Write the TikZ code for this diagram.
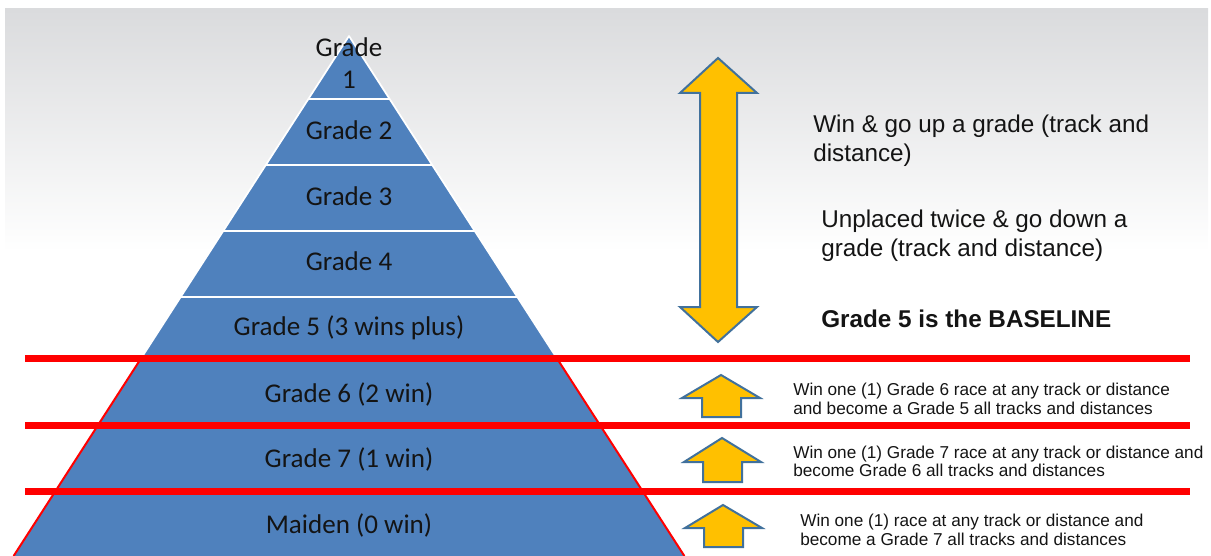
\documentclass[tikz,border=0pt]{standalone}
\usepackage{fontspec}
\setmainfont{Liberation Sans}
\newfontfamily\calib{Carlito}
\definecolor{pyr}{RGB}{79,129,189}
\definecolor{gold}{RGB}{255,192,0}
\definecolor{arrowedge}{RGB}{65,113,156}
\definecolor{bggray}{RGB}{218,219,221}
\definecolor{txt}{RGB}{20,20,20}
\begin{document}
\begin{tikzpicture}[x=0.75pt,y=-0.75pt,
  lvl/.style={font=\calib\fontsize{20.3}{24}\selectfont, anchor=base, text=txt, inner sep=0pt},
  bigtxt/.style={font=\fontsize{18.2}{21.8}\selectfont, anchor=base west, text=txt, inner sep=0pt},
  smalltxt/.style={font=\fontsize{12.9}{15}\selectfont, anchor=base west, text=txt, inner sep=0pt},
  redline/.style={draw=red, line width=5.25pt},
  whitesep/.style={draw=white, line width=2.2pt},
  goldarrow/.style={fill=gold, draw=arrowedge, line width=1.5pt, line join=miter}]
\useasboundingbox (0,0) rectangle (1211,556);
\begin{scope}
\clip (0,0) rectangle (1211,556);
% background
\shade[top color=bggray, bottom color=white] (5,9) rectangle (1208,252);
% pyramid
\fill[pyr] (349,36) -- (684.4,556) -- (13.6,556) -- cycle;
\draw[white, line width=1.3pt, line join=round] (141.3,358) -- (349,36) -- (556.7,358);
\draw[whitesep] (308.4,99) -- (389.6,99);
\draw[whitesep] (265.8,165) -- (432.2,165);
\draw[whitesep] (223.2,231) -- (474.8,231);
\draw[whitesep] (180.7,297) -- (517.3,297);
\draw[red, line width=1.5pt] (141.3,358) -- (13.6,556);
\draw[red, line width=1.5pt] (556.7,358) -- (684.4,556);
% red lines
\draw[redline] (25,358) -- (1190,358);
\draw[redline] (25,425) -- (1190,425);
\draw[redline] (25,491) -- (1190,491);
\end{scope}
% pyramid labels
\node[lvl] (g1a) at (349,57) {Grade};
\node[lvl] (g1b) at (349,89) {1};
\node[lvl] (g2) at (349,140) {Grade 2};
\node[lvl] (g3) at (349,206) {Grade 3};
\node[lvl] (g4) at (349,271) {Grade 4};
\node[lvl] (g5) at (349,335) {Grade 5 (3 wins plus)};
\node[lvl] (g6) at (349,402) {Grade 6 (2 win)};
\node[lvl] (g7) at (349,467) {Grade 7 (1 win)};
\node[lvl] (gm) at (349,533) {Maiden (0 win)};
% big double arrow
\draw[goldarrow] (718,58) -- (757,93) -- (737,93) -- (737,307) -- (757,307) -- (718,342)
  -- (680,307) -- (700,307) -- (700,93) -- (680,93) -- cycle;
% small up arrows
\draw[goldarrow] (721,375) -- (760,398) -- (741,398) -- (741,417) -- (702,417) -- (702,398) -- (682,398) -- cycle;
\draw[goldarrow] (722,438) -- (761,462) -- (742,462) -- (742,482) -- (703,482) -- (703,462) -- (684,462) -- cycle;
\draw[goldarrow] (723,505) -- (762,528) -- (743,528) -- (743,547) -- (704,547) -- (704,528) -- (685,528) -- cycle;
% right texts
\node[bigtxt] (up1) at (813,133) {Win \& go up a grade (track and};
\node[bigtxt] (up2) at (813,162) {distance)};
\node[bigtxt] (dn1) at (821,228) {Unplaced twice \& go down a};
\node[bigtxt] (dn2) at (821,257) {grade (track and distance)};
\node[bigtxt, font=\bfseries\fontsize{18.2}{21.8}\selectfont] (base) at (821,327) {Grade 5 is the BASELINE};
\node[smalltxt] (r6a) at (793,395) {Win one (1) Grade 6 race at any track or distance};
\node[smalltxt] (r6b) at (793,414) {and become a Grade 5 all tracks and distances};
\node[smalltxt] (r7a) at (793,458) {Win one (1) Grade 7 race at any track or distance and};
\node[smalltxt] (r7b) at (793,476) {become Grade 6 all tracks and distances};
\node[smalltxt] (rma) at (800,526) {Win one (1) race at any track or distance and};
\node[smalltxt] (rmb) at (800,545) {become a Grade 7 all tracks and distances};
\end{tikzpicture}
\end{document}
